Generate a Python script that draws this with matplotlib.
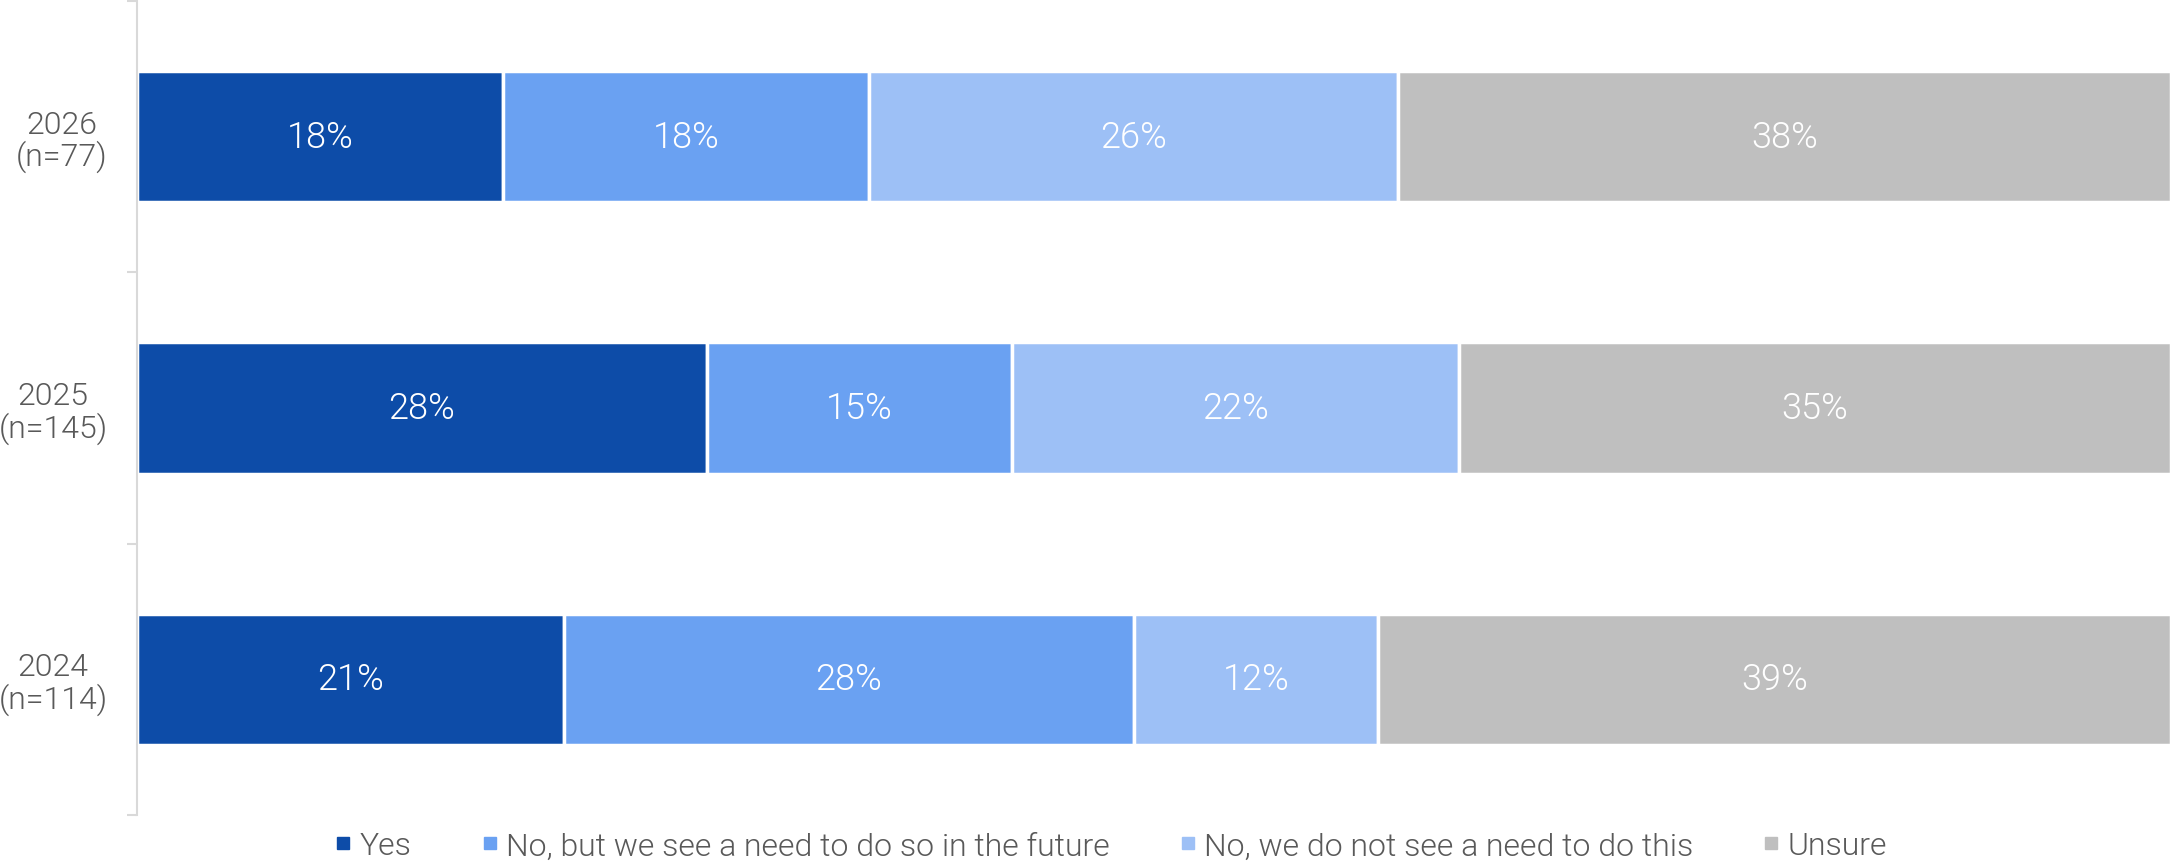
import matplotlib
matplotlib.use("Agg")
import matplotlib.pyplot as plt
from matplotlib.lines import Line2D
import numpy as np

plt.rcParams['font.family'] = ['Roboto', 'DejaVu Sans']
plt.rcParams['font.weight'] = 300

categories = ["2026\n(n=77)", "2025\n(n=145)", "2024\n(n=114)"]
series_names = ["Yes", "No, but we see a need to do so in the future",
                "No, we do not see a need to do this", "Unsure"]
yes = [18, 28, 21]
no_future = [18, 15, 28]
no_need = [26, 22, 12]
unsure = [38, 35, 39]
colors = ["#0D4CA8", "#6AA1F2", "#9DC0F6", "#BFBFBF"]

values = [yes, no_future, no_need, unsure]

fig = plt.figure(figsize=(21.71, 8.62), dpi=100)
ax = fig.add_axes([137/2171, 1-816/862, 1-137/2171, (816-2)/862])

ypos = np.arange(len(categories))
left = np.zeros(len(categories))
for vals, col in zip(values, colors):
    vals = np.array(vals, dtype=float)
    ax.barh(ypos, vals, left=left, height=0.485, color=col,
            edgecolor="white", linewidth=2.5)
    for y, l, v in zip(ypos, left, vals):
        ax.text(l + v/2, y, f"{int(v)}%", ha="center", va="center",
                color="white", fontsize=26, fontweight=300)
    left += vals

ax.set_xlim(0, 100)
ax.set_ylim(2.5, -0.5)
ax.set_xticks([])
ax.set_yticks([-0.5, 0.5, 1.5, 2.5])
ax.set_yticklabels([])
ax.set_yticks(ypos, minor=True)
ax.set_yticklabels(categories, minor=True)
ax.tick_params(axis='y', which='major', length=7, color="#D9D9D9", width=1.5)
ax.tick_params(axis='y', which='minor', length=0, pad=21, labelsize=23,
               labelcolor="#595959")
for lab in ax.get_yticklabels(minor=True):
    lab.set_multialignment('center')
    lab.set_fontweight(300)
    lab.set_linespacing(1.05)
for s in ["top", "right", "bottom"]:
    ax.spines[s].set_visible(False)
ax.spines["left"].set_color("#D9D9D9")
ax.spines["left"].set_linewidth(1.5)

handles = [Line2D([], [], marker='s', linestyle='none', markersize=9,
                  markerfacecolor=c, markeredgecolor=c) for c in colors]
leg = fig.legend(handles, series_names, loc="center", ncol=4,
                 bbox_to_anchor=(1111/2171, 1-847/862), frameon=False,
                 fontsize=23, handlelength=0.5, handletextpad=0.25,
                 columnspacing=2.2, borderaxespad=0, borderpad=0)
for t in leg.get_texts():
    t.set_color("#595959")
    t.set_fontweight(300)

fig.savefig("out.png", dpi=100)
